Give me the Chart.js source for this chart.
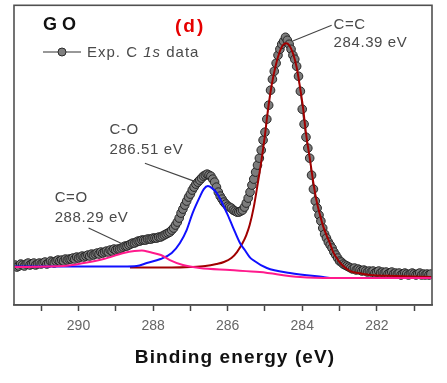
<!DOCTYPE html>
<html><head><meta charset="utf-8">
<script src="https://cdn.jsdelivr.net/npm/chart.js@4/dist/chart.umd.min.js"></script>
<style>html,body{margin:0;padding:0;background:#fff;}canvas{display:block;}</style>
</head><body>
<canvas id="c" width="447" height="383"></canvas>
<script>
// ---- Experimental C 1s data (binding energy in eV, intensity a.u.) ----
const energy = [
 291.7,291.65,291.6,291.55,291.5,291.45,291.4,291.35,291.3,291.25,291.2,291.15,291.1,291.05,291.0,
 290.95,290.9,290.85,290.8,290.75,290.7,290.65,290.6,290.55,290.5,290.45,290.4,290.35,290.3,290.25,290.2,290.15,290.1,290.05,290.0,
 289.95,289.9,289.85,289.8,289.75,289.7,289.65,289.6,289.55,289.5,289.45,289.4,289.35,289.3,289.25,289.2,289.15,289.1,289.05,289.0,
 288.95,288.9,288.85,288.8,288.75,288.7,288.65,288.6,288.55,288.5,288.45,288.4,288.35,288.3,288.25,288.2,288.15,288.1,288.05,288.0,
 287.95,287.9,287.85,287.8,287.75,287.7,287.65,287.6,287.55,287.5,287.45,287.4,287.35,287.3,287.25,287.2,287.15,287.1,287.05,287.0,
 286.95,286.9,286.85,286.8,286.75,286.7,286.65,286.6,286.55,286.5,286.45,286.4,286.35,286.3,286.25,286.2,286.15,286.1,286.05,286.0,
 285.95,285.9,285.85,285.8,285.75,285.7,285.65,285.6,285.55,285.5,285.45,285.4,285.35,285.3,285.25,285.2,285.15,285.1,285.05,285.0,
 284.95,284.9,284.85,284.8,284.75,284.7,284.65,284.6,284.55,284.5,284.45,284.4,284.35,284.3,284.25,284.2,284.15,284.1,284.05,284.0,
 283.95,283.9,283.85,283.8,283.75,283.7,283.65,283.6,283.55,283.5,283.45,283.4,283.35,283.3,283.25,283.2,283.15,283.1,283.05,283.0,
 282.95,282.9,282.85,282.8,282.75,282.7,282.65,282.6,282.55,282.5,282.45,282.4,282.35,282.3,282.25,282.2,282.15,282.1,282.05,282.0,
 281.95,281.9,281.85,281.8,281.75,281.7,281.65,281.6,281.55,281.5,281.45,281.4,281.35,281.3,281.25,281.2,281.15,281.1,281.05,281.0,
 280.95,280.9,280.85,280.8,280.75,280.7,280.65,280.6,280.55
];
const intensity = [
 40,38,39,41,40,39,41,42,40,41,42,40,41,42,41,
 42,43,41,42,44,43,42,44,45,44,45,44,46,45,46,46,47,46,48,47,
 48,49,48,49,50,49,51,50,51,52,51,53,52,53,54,53,55,54,56,55,
 56,56,57,58,59,59,60,61,62,62,63,64,64,65,65,65,66,66,66,67,
 67,67,68,68,69,70,71,72,73,75,77,80,83,87,92,96,100,104,108,111,
 115,118,121,123,125,127,129,130,131,130,129,126,123,118,113,109,106,103,101,99,
 98,97,95,94,93,93,94,95,98,102,107,113,120,126,133,140,147,155,165,173,
 186,200,215,226,234,242,250,256,261,264,268,265,261,256,250,246,239,229,214,196,
 181,168,157,147,130,116,104,97,90,84,77,71,67,63,60,57,53,50,47,44,
 43,41,40,39,38,37,36,37,35,36,35,34,35,34,33,34,33,34,32,33,
 34,32,33,32,33,31,32,33,31,32,31,32,30,31,32,31,30,31,32,31,
 30,31,32,30,31,30,31,30,31
];
// ---- Fitted components ----
const ccEnergy = [288.62,288.0,287.5,287.0,286.6,286.3,286.1,285.9,285.75,285.6,285.5,285.41,285.3,285.2,285.1,285.0,284.92,284.82,284.71,284.6,284.52,284.43,284.35,284.25,284.15,284.06,283.98,283.9,283.79,283.7,283.62,283.53,283.44,283.35,283.26,283.17,283.04,282.9,282.72,282.5,282.18,281.5,280.52];
const ccFit    = [37.5,37.5,37.5,38,39,41,43,47,53,62,70,80,98,120,143,170,195,220,240,254,260,262,260,252,238,218,198,172,145,122,105,91,79,70,62,53,45,39,34,32,30,29,28];
const coEnergy = [291.73,289.5,288.8,288.44,288.17,287.8,287.5,287.28,287.1,286.94,286.75,286.64,286.53,286.42,286.29,286.02,285.86,285.67,285.54,285.41,285.32,284.95,284.33,283.44,283.18,280.52];
const coFit    = [38.5,38.5,38.5,39,42,46,52,62,75,92,108,116,119,117,112,92,78,62,55,48,45,37,32,28,27,27];
const c_oEnergy = [291.73,290.4,289.86,289.33,288.79,288.5,288.3,288.1,287.79,287.55,287.2,286.75,285.94,285.14,284.06,283.18,280.52];
const c_oFit    = [38,39,42,46,52,54,54.5,53,50,45,40,37,35,33,28,27,27];
// ---- Axis ----
const tickValues = [281,282,283,284,285,286,287,288,289,290,291];
const tickLabels = [282,284,286,288,290];
const xTitle = 'Binding energy (eV)';
// ---- Annotations (data coordinates) ----
const notes = [
  {lines:['C=C','284.39 eV'], x:283.16, y:[280,262], from:[284.27,264], to:[283.21,280]},
  {lines:['C-O','286.51 eV'], x:289.17, y:[175,155], from:[288.22,142], to:[286.83,123]},
  {lines:['C=O','288.29 eV'], x:290.64, y:[107,87], from:[289.73,77], to:[288.76,60]}
];

const pts = (xs, ys) => xs.map((x,i)=>({x, y: ys[i]}));

const overlay = {
  id:'overlay',
  afterDatasetsDraw(chart){
    const {ctx, chartArea:a, scales:{x,y}} = chart;
    ctx.save();
    // frame
    ctx.strokeStyle = '#505050'; ctx.lineWidth = 1.6;
    ctx.strokeRect(a.left, a.top, a.right-a.left, a.bottom-a.top);
    // GO
    ctx.fillStyle = '#111'; ctx.textBaseline = 'middle'; ctx.textAlign = 'left';
    ctx.font = 'bold 18px "Liberation Sans", Arial, sans-serif';
    ctx.letterSpacing = '5px';
    ctx.fillText('GO', 43, 25);
    ctx.fillStyle = '#e60000';
    ctx.font = 'bold 19px "Liberation Sans", Arial, sans-serif';
    ctx.letterSpacing = '2px';
    ctx.fillText('(d)', 175, 27);
    // legend
    ctx.letterSpacing = '0px';
    ctx.strokeStyle = '#333'; ctx.lineWidth = 1.2;
    ctx.beginPath(); ctx.moveTo(43,52); ctx.lineTo(81,52); ctx.stroke();
    ctx.beginPath(); ctx.arc(62,52,4,0,Math.PI*2);
    ctx.fillStyle = '#808080'; ctx.fill(); ctx.strokeStyle='#2a2a2a'; ctx.lineWidth=1; ctx.stroke();
    ctx.fillStyle = '#4a4a4a';
    ctx.letterSpacing = '1px';
    const f = '15px "Liberation Sans", Arial, sans-serif';
    const fi = 'italic 15px "Liberation Sans", Arial, sans-serif';
    let cx = 87;
    const seg = [['Exp. C ',f],['1s',fi],[' data',f]];
    seg.forEach(([t,ft])=>{ ctx.font = ft; ctx.fillText(t,cx,53); cx += ctx.measureText(t).width; });
    // annotations
    ctx.font = '15px "Liberation Sans", Arial, sans-serif';
    ctx.letterSpacing = '0.6px';
    notes.forEach(n=>{
      ctx.strokeStyle = '#444'; ctx.lineWidth = 1.1;
      ctx.beginPath();
      ctx.moveTo(x.getPixelForValue(n.from[0]), y.getPixelForValue(n.from[1]));
      ctx.lineTo(x.getPixelForValue(n.to[0]), y.getPixelForValue(n.to[1]));
      ctx.stroke();
      ctx.fillStyle = '#4a4a4a';
      n.lines.forEach((t,i)=> ctx.fillText(t, x.getPixelForValue(n.x), y.getPixelForValue(n.y[i])));
    });
    // x-axis title
    ctx.fillStyle = '#111';
    ctx.font = 'bold 19px "Liberation Sans", Arial, sans-serif';
    ctx.letterSpacing = '1.1px';
    ctx.textAlign = 'center'; ctx.textBaseline = 'alphabetic';
    ctx.fillText(xTitle, 235, 363);
    ctx.restore();
  }
};

new Chart(document.getElementById('c'), {
  type:'scatter',
  data:{datasets:[
    {label:'C=O', data:pts(c_oEnergy,c_oFit), showLine:true, borderColor:'#ff1a8c', borderWidth:2, pointRadius:0, cubicInterpolationMode:'monotone', order:1},
    {label:'C-O', data:pts(coEnergy,coFit), showLine:true, borderColor:'#1010ff', borderWidth:2, pointRadius:0, cubicInterpolationMode:'monotone', order:2},
    {label:'C=C', data:pts(ccEnergy,ccFit), showLine:true, borderColor:'#a00000', borderWidth:2, pointRadius:0, cubicInterpolationMode:'monotone', order:3},
    {label:'Exp. C 1s data', data:pts(energy,intensity), showLine:true, borderColor:'#333', borderWidth:1,
     pointRadius:4.3, pointBackgroundColor:'#7c7c7c', pointBorderColor:'#262626', pointBorderWidth:1, order:4}
  ]},
  options:{
    responsive:false, animation:false, devicePixelRatio:1,
    layout:{padding:{left:14, right:15, top:5, bottom:0}},
    plugins:{legend:{display:false}, tooltip:{enabled:false}},
    scales:{
      x:{type:'linear', reverse:true, min:280.52, max:291.73,
        afterBuildTicks: ax => { ax.ticks = tickValues.map(v=>({value:v})); },
        afterFit: s => { s.height = 78; },
        ticks:{autoSkip:false, maxRotation:0, padding:7, color:'#666',
          font:{family:'"Liberation Sans", Arial, sans-serif', size:14},
          callback: v => tickLabels.includes(v) ? String(v) : ''},
        grid:{drawOnChartArea:false, drawTicks:true, tickLength:6, tickColor:'#444', tickWidth:1.5},
        border:{display:true, color:'#505050', width:1.6},
        title:{display:false}
      },
      y:{display:false, min:0, max:300}
    }
  },
  plugins:[overlay]
});
</script>
</body></html>
